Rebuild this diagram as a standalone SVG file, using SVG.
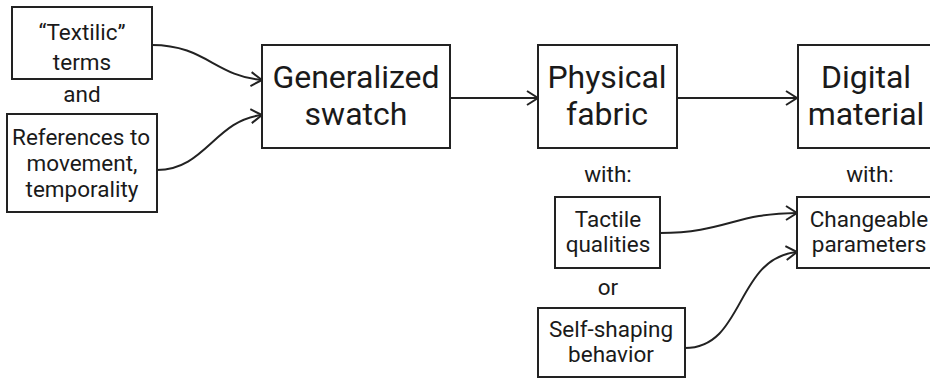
<svg xmlns="http://www.w3.org/2000/svg" width="930" height="380" viewBox="0 0 930 380">
<style>
.box{fill:#fff;stroke:#222;stroke-width:2}
.t{font-family:Roboto,"Liberation Sans",sans-serif;fill:#1a1a1a;text-anchor:middle}
.s{font-size:22.5px}
.l{font-size:32px}
.c{fill:none;stroke:#222;stroke-width:2;marker-end:url(#ah)}
</style>
<defs>
<marker id="ah" markerUnits="userSpaceOnUse" markerWidth="16" markerHeight="18" refX="13" refY="8" orient="auto">
<path d="M2,1 L13,8 L2,15" fill="none" stroke="#222" stroke-width="2"/>
</marker>
</defs>
<g id="connectors">
<path class="c" d="M152,45 C205,45 215,76 262,80"/>
<path class="c" d="M157,170 C205,170 215,120 262,115"/>
<path class="c" d="M450,98 L538,98"/>
<path class="c" d="M677,98 L797,98"/>
<path class="c" d="M660,233 C725,233 735,213 797,213"/>
<path class="c" d="M685,348 C745,348 735,258 797,252"/>
</g>
<g id="textilic">
<rect class="box" x="12" y="7" width="140" height="72"/>
<text class="t s" x="82" y="40">“Textilic”</text>
<text class="t s" x="82" y="70">terms</text>
</g>
<g id="and"><text class="t s" x="82" y="102">and</text></g>
<g id="references">
<rect class="box" x="7" y="114" width="150" height="98"/>
<text class="t s" x="81" y="145">References to</text>
<text class="t s" x="82" y="171">movement,</text>
<text class="t s" x="82" y="197">temporality</text>
</g>
<g id="swatch">
<rect class="box" x="262" y="45" width="188" height="103"/>
<text class="t l" x="356" y="88">Generalized</text>
<text class="t l" x="356" y="125">swatch</text>
</g>
<g id="physical">
<rect class="box" x="538" y="45" width="139" height="103"/>
<text class="t l" x="607" y="88">Physical</text>
<text class="t l" x="607" y="125">fabric</text>
</g>
<g id="with1"><text class="t s" x="608" y="182">with:</text></g>
<g id="digital">
<rect class="box" x="798" y="45" width="140" height="103"/>
<text class="t l" x="866" y="88">Digital</text>
<text class="t l" x="866" y="125">material</text>
</g>
<g id="with2"><text class="t s" x="870" y="182">with:</text></g>
<g id="tactile">
<rect class="box" x="555" y="197" width="105" height="71"/>
<text class="t s" x="608" y="227">Tactile</text>
<text class="t s" x="608" y="252">qualities</text>
</g>
<g id="or"><text class="t s" x="608" y="295">or</text></g>
<g id="selfshaping">
<rect class="box" x="538" y="308" width="147" height="69"/>
<text class="t s" x="611" y="337">Self-shaping</text>
<text class="t s" x="611" y="362">behavior</text>
</g>
<g id="changeable">
<rect class="box" x="797" y="197" width="140" height="71"/>
<text class="t s" x="869" y="227">Changeable</text>
<text class="t s" x="869" y="252">parameters</text>
</g>
</svg>
